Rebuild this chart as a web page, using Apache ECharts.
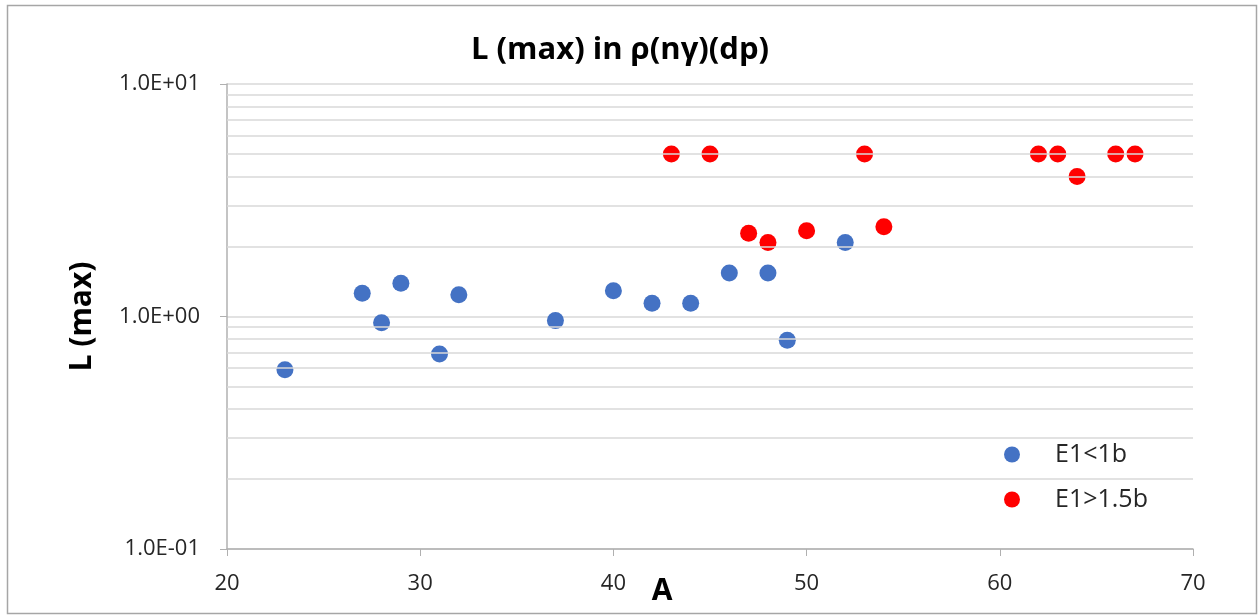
<!DOCTYPE html>
<html><head><meta charset="utf-8">
<script src="https://cdn.jsdelivr.net/npm/echarts@6/dist/echarts.min.js"></script>
<style>html,body{margin:0;padding:0;background:#fff}#c{width:1258px;height:615px}</style>
</head><body><div id="c"></div>
<script>
const titleText = 'L (max) in ρ(nγ)(dp)';
const xName = 'A';
const yName = 'L (max)';
const seriesNames = ['E1<1b', 'E1>1.5b'];
const blueA = [23, 27, 28, 29, 31, 32, 37, 40, 42, 44, 46, 48, 49, 52];
const blueL = [0.59, 1.26, 0.94, 1.39, 0.69, 1.24, 0.96, 1.29, 1.14, 1.14, 1.54, 1.54, 0.79, 2.08];
const redA = [43, 45, 47, 48, 50, 53, 54, 62, 63, 64, 66, 67];
const redL = [5, 5, 2.28, 2.08, 2.34, 5, 2.43, 5, 5, 4, 5, 5];
const decades = [0.1, 1];
const minorMults = [2, 3, 4, 5, 6, 7, 8, 9];

const minorVals = [];
decades.forEach(d => minorMults.forEach(m => minorVals.push(+(d * m).toPrecision(3))));

function fmtExp(v) {
  const e = Math.round(Math.log10(v));
  const m = v / Math.pow(10, e);
  const sign = e < 0 ? '-' : '+';
  const ae = Math.abs(e);
  return m.toFixed(1) + 'E' + sign + (ae < 10 ? '0' : '') + ae;
}

const font = '"Open Sans", "Noto Sans", sans-serif';
const chart = echarts.init(document.getElementById('c'), null, {renderer: 'canvas'});
chart.setOption({
  animation: false,
  backgroundColor: '#fff',
  title: {
    text: titleText, left: 615, top: 30, textAlign: 'center',
    textStyle: {fontFamily: font, fontWeight: 'bold', fontSize: 31, color: '#000'}
  },
  grid: {left: 227, right: 65, top: 84, bottom: 66, containLabel: false, outerBoundsMode: 'none'},
  legend: {
    orient: 'vertical', left: 999, top: 437, itemWidth: 76, itemHeight: 16, itemGap: 20,
    icon: 'circle', data: seriesNames,
    textStyle: {fontFamily: font, fontSize: 25, color: '#262626', lineHeight: 25}
  },
  xAxis: {
    type: 'value', min: 20, max: 70, interval: 10,
    name: xName, nameLocation: 'middle', nameGap: 27, nameMoveOverlap: false,
    nameTextStyle: {fontFamily: font, fontWeight: 'bold', fontSize: 30, color: '#000', padding: [0, 96, 0, 0]},
    axisLine: {show: true, lineStyle: {color: '#b0b0b0', width: 1.5}},
    axisTick: {show: true, inside: false, length: 7, lineStyle: {color: '#b0b0b0'}},
    axisLabel: {fontFamily: font, fontSize: 22, color: '#262626', margin: 24},
    splitLine: {show: false}
  },
  yAxis: {
    type: 'log', logBase: 10, min: 0.1, max: 10,
    name: yName, nameLocation: 'middle', nameRotate: 90, nameGap: 130, nameMoveOverlap: false,
    nameTextStyle: {fontFamily: font, fontWeight: 'bold', fontSize: 30, color: '#000'},
    axisLine: {show: true, lineStyle: {color: '#b0b0b0', width: 1.5}},
    axisTick: {show: true, inside: false, length: 7, lineStyle: {color: '#b0b0b0'}},
    axisLabel: {fontFamily: font, fontSize: 22, color: '#262626', margin: 27, formatter: fmtExp},
    splitLine: {show: true, lineStyle: {color: '#d9d9d9', width: 1.5}},
    minorTick: {show: false}, minorSplitLine: {show: false}
  },
  graphic: [{
    type: 'rect', silent: true, z: -10,
    shape: {x: 7.5, y: 5.5, width: 1249, height: 608},
    style: {fill: 'none', stroke: '#a6a6a6', lineWidth: 1.5}
  }],
  series: [
    {
      name: '_grid', type: 'scatter', data: [], z: 1, silent: true,
      markLine: {
        silent: true, symbol: 'none', animation: false,
        label: {show: false},
        lineStyle: {color: '#d9d9d9', type: 'solid', width: 1.5},
        emphasis: {disabled: true},
        data: minorVals.map(v => ({yAxis: v}))
      }
    },
    {
      name: seriesNames[0], type: 'scatter', z: 3, symbol: 'circle', symbolSize: 17,
      itemStyle: {color: '#4472C4', opacity: 1},
      data: blueA.map((a, i) => [a, blueL[i]])
    },
    {
      name: seriesNames[1], type: 'scatter', z: 3, symbol: 'circle', symbolSize: 17,
      itemStyle: {color: '#FF0000', opacity: 1},
      data: redA.map((a, i) => [a, redL[i]])
    }
  ]
});
</script></body></html>
